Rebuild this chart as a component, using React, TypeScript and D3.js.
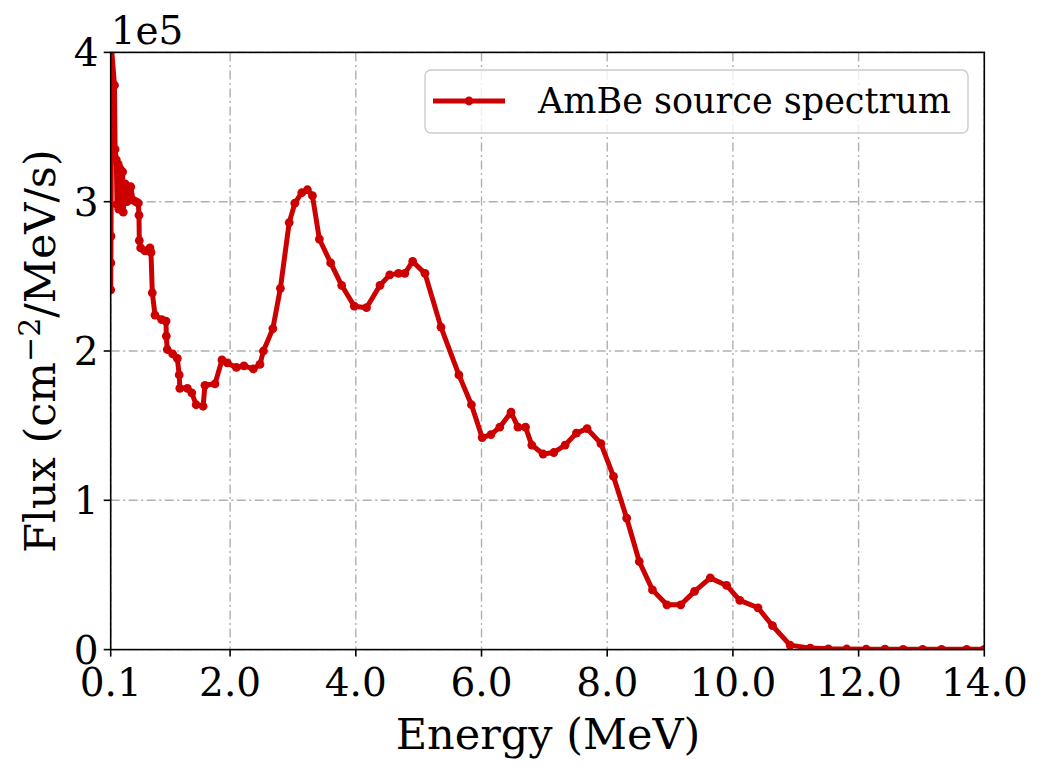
import React from 'react';
import * as d3 from 'd3';

// AmBe spectrum (energy in MeV, flux in units of 1e5)
const energy = [
  0.1, 0.102, 0.105, 0.115, 0.16, 0.17, 0.19, 0.2, 0.22, 0.23, 0.25, 0.27, 0.29, 0.3, 0.33, 0.36, 0.39, 0.42, 0.455,
  0.5, 0.539, 0.55, 0.555, 0.577, 0.646, 0.725, 0.741, 0.762, 0.805, 0.911, 0.98, 0.985, 1.0, 1.086, 1.16, 1.19,
  1.2, 1.32, 1.39, 1.46, 1.57, 1.6, 1.76, 1.87, 1.955, 2.1, 2.22, 2.37, 2.475, 2.53, 2.68, 2.8, 2.94, 3.03, 3.14,
  3.23, 3.31, 3.42, 3.6, 3.775, 3.976, 4.17, 4.385, 4.54, 4.68, 4.78, 4.905, 5.1, 5.355, 5.64, 5.84, 6.01, 6.15,
  6.29, 6.47, 6.58, 6.7, 6.8, 6.98, 7.15, 7.33, 7.51, 7.68, 7.9, 8.1, 8.31, 8.51, 8.72, 8.95, 9.17, 9.39, 9.64,
  9.9, 10.11, 10.4, 10.63, 10.91, 11.23, 11.52, 11.81, 12.12, 12.42, 12.71, 13.02, 13.32, 13.72, 14.0,
];
const flux = [
  2.41, 2.59, 2.77, 4.02, 3.78, 3.35, 3.28, 2.98, 3.25, 2.95, 3.22, 3.05, 3.2, 2.93, 3.12, 3.0, 3.08, 3.1, 3.01,
  3.0, 2.99, 2.91, 2.74, 2.69, 2.67, 2.69, 2.66, 2.39, 2.24, 2.21, 2.2, 2.1, 2.01, 1.98, 1.95, 1.84,
  1.75, 1.75, 1.72, 1.64, 1.63, 1.77, 1.78, 1.94, 1.92, 1.89, 1.9, 1.88, 1.91, 2.0, 2.15, 2.42, 2.86, 2.99, 3.06,
  3.08, 3.04, 2.75, 2.59, 2.44, 2.3, 2.29, 2.44, 2.51, 2.52, 2.52, 2.6, 2.52, 2.16, 1.84, 1.64, 1.42, 1.44,
  1.49, 1.59, 1.49, 1.49, 1.37, 1.31, 1.32, 1.37, 1.45, 1.48, 1.38, 1.16, 0.88, 0.59, 0.4, 0.3, 0.3, 0.39, 0.48,
  0.43, 0.33, 0.28, 0.16, 0.03, 0.01, 0.005, 0.004, 0.003, 0.003, 0.002, 0.002, 0.002, 0.002, 0.002,
];

const xTicks = [0.1, 2, 4, 6, 8, 10, 12, 14];
const yTicks = [0, 1, 2, 3, 4];

const W = 1047;
const H = 774;
const left = 110.7;
const right = 984.3;
const top = 52.4;
const bottom = 649.6;
const RED = '#cc0000';
const FONT = '"DejaVu Serif", serif';

export default function App() {
  const x = d3.scaleLinear().domain([0.1, 14]).range([left, right]);
  const y = d3.scaleLinear().domain([0, 4]).range([bottom, top]);
  const pts = energy.map((e, i) => [e, flux[i]] as [number, number]);
  const line = d3.line<[number, number]>().x(d => x(d[0])).y(d => y(d[1]));
  const grid = '#b0b0b0';
  const dash = '9,3.5,2,3.5';

  return (
    <div style={{ position: 'absolute', left: 0, top: 0 }}>
      <svg width={W} height={H} style={{ display: 'block', background: '#fff' }} fontFamily={FONT}>
        <defs>
          <clipPath id="plot">
            <rect x={left} y={top} width={right - left} height={bottom - top} />
          </clipPath>
        </defs>

        {/* grid */}
        {xTicks.map(t => (
          <line key={'gx' + t} x1={x(t)} x2={x(t)} y1={top} y2={bottom} stroke={grid} strokeWidth={1.4} strokeDasharray={dash} />
        ))}
        {yTicks.map(t => (
          <line key={'gy' + t} x1={left} x2={right} y1={y(t)} y2={y(t)} stroke={grid} strokeWidth={1.4} strokeDasharray={dash} />
        ))}

        {/* data */}
        <g clipPath="url(#plot)">
          <path d={line(pts) || ''} fill="none" stroke={RED} strokeWidth={5} strokeLinejoin="round" />
          {pts.map((p, i) => (
            <circle key={i} cx={x(p[0])} cy={y(p[1])} r={4.4} fill={RED} />
          ))}
        </g>

        {/* spines */}
        <rect x={left} y={top} width={right - left} height={bottom - top} fill="none" stroke="#000" strokeWidth={1.6} />

        {/* x ticks */}
        {xTicks.map(t => (
          <g key={'xt' + t}>
            <line x1={x(t)} x2={x(t)} y1={bottom} y2={bottom + 7} stroke="#000" strokeWidth={1.6} />
            <text x={x(t)} y={bottom + 46} textAnchor="middle" fontSize={39}>{t.toFixed(1)}</text>
          </g>
        ))}
        {/* y ticks */}
        {yTicks.map(t => (
          <g key={'yt' + t}>
            <line x1={left - 7} x2={left} y1={y(t)} y2={y(t)} stroke="#000" strokeWidth={1.6} />
            <text x={left - 12} y={y(t) + 14} textAnchor="end" fontSize={39}>{t}</text>
          </g>
        ))}
        <text x={left} y={44} fontSize={39}>1e5</text>

        {/* axis labels */}
        <text x={548} y={749} textAnchor="middle" fontSize={43}>Energy (MeV)</text>
        <text transform={`translate(55,${(top + bottom) / 2}) rotate(-90)`} textAnchor="middle" fontSize={43}>
          Flux (cm<tspan dy={-15} fontSize={30}>−2</tspan><tspan dy={15}>/MeV/s)</tspan>
        </text>

        {/* legend */}
        <g>
          <rect x={425} y={70} width={543} height={63} rx={6} fill="#fff" fillOpacity={0.8} stroke="#cccccc" strokeWidth={1.4} />
          <line x1={433} x2={505} y1={101} y2={101} stroke={RED} strokeWidth={5} />
          <circle cx={469} cy={101} r={4.4} fill={RED} />
          <text x={538} y={113} fontSize={35}>AmBe source spectrum</text>
        </g>
      </svg>
    </div>
  );
}
